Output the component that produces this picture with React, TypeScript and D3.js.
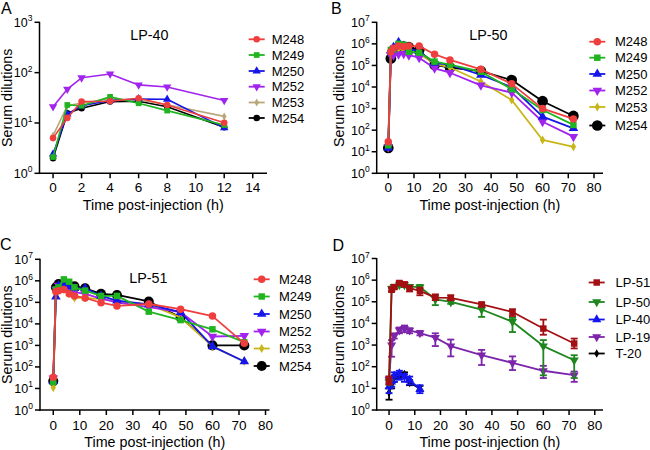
import React from 'react';
import * as d3 from 'd3';

// ---------- data ----------
const timesShort = [0, 1, 2, 4, 6, 8, 12];
const timesLong = [0, 1, 2, 4, 6, 8, 12, 18, 24, 36, 48, 60, 72];
const xTicksShort = [0, 2, 4, 6, 8, 10, 12, 14];
const xTicksLong = [0, 10, 20, 30, 40, 50, 60, 70, 80];
const mouseNames = ['M248', 'M249', 'M250', 'M252', 'M253', 'M254'];
const drugNames = ['LP-51', 'LP-50', 'LP-40', 'LP-19', 'T-20'];
const panelTitles = ['LP-40', 'LP-50', 'LP-51'];

// Panel A (LP-40)
const a_M248 = [5.0, 12.6, 26.6, 27, 31, 22.8, 10.1];
const a_M249 = [2.1, 22.8, 22, 33, 24.6, 17.6, 9.1];
const a_M250 = [2.4, 15, 22, 28, 30, 29.6, 8];
const a_M252 = [21, 47, 79, 94, 57, 52, 28];
const a_M253 = [5.6, 22, 25, 30, 29, 23, 13.5];
const a_M254 = [2.0, 15.6, 19.6, 26.6, 27, 21, 8.2];

// Panel B (LP-50)
const b_M248 = [29, 4.3e5, 6.3e5, 7.9e5, 7.4e5, 7.9e5, 7.9e5, 3.3e5, 1.8e5, 6.6e4, 1.4e4, 1.0e3, 330];
const b_M249 = [20, 5.2e5, 5.5e5, 1.0e6, 9e5, 4.3e5, 3.9e5, 1.5e5, 1.1e5, 5.1e4, 8e3, 860, 175];
const b_M250 = [15, 5e5, 7e5, 1.2e6, 8e5, 6e5, 4.5e5, 1.3e5, 1.1e5, 3.6e4, 1.0e4, 420, 122];
const b_M252 = [17, 3e5, 3e5, 3.3e5, 3.5e5, 3e5, 2.3e5, 7.4e4, 4.6e4, 1.2e4, 5.5e3, 245, 50];
const b_M253 = [15, 4e5, 5e5, 6e5, 5e5, 4.5e5, 3.5e5, 1.2e5, 8e4, 1.8e4, 2.5e3, 35, 17];
const b_M254 = [15, 2.1e5, 5e5, 7e5, 7.5e5, 7e5, 5e5, 1.05e5, 8e4, 5.5e4, 2.1e4, 2.2e3, 455];

// Panel C (LP-51)
const c_M248 = [33, 3.1e5, 3.5e5, 4e5, 2.5e5, 2e5, 1.6e5, 9.6e4, 6.8e4, 8.4e4, 4.8e4, 2.3e4, 1.25e3];
const c_M249 = [20, 4e5, 5e5, 1.17e6, 9.1e5, 5e5, 3.5e5, 2e5, 2e5, 3.7e4, 1.5e4, 5.6e3, 1.4e3];
const c_M250 = [22, 1.8e5, 6e5, 7e5, 5.5e5, 4.5e5, 4.5e5, 2e5, 1.2e5, 8e4, 3.5e4, 900, 180];
const c_M252 = [30, 4e5, 6e5, 6e5, 4e5, 3e5, 2.5e5, 1.5e5, 1e5, 6e4, 3.5e4, 2.6e3, 2.8e3];
const c_M253 = [11, 3e5, 4e5, 4e5, 2.5e5, 1.6e5, 1.6e5, 1.4e5, 1.1e5, 8e4, 2e4, 900, 180];
const c_M254 = [22, 5e5, 7e5, 6e5, 5e5, 5.5e5, 4.5e5, 2.5e5, 2.2e5, 1.1e5, 2e4, 1e3, 1e3];

// Panel D (means with lower / upper error bounds)
const d_LP51 = [22, 3.6e5, 4.8e5, 7.4e5, 6.4e5, 4.3e5, 3.2e5, 1.56e5, 1.5e5, 7.6e4, 3.4e4, 5.8e3, 1.18e3];
const d_LP51_lo = [15, 3e5, 4e5, 6e5, 5e5, 3e5, 2e5, 1.2e5, 1.2e5, 6e4, 2.2e4, 3e3, 7e2];
const d_LP51_hi = [35, 4.5e5, 6e5, 9e5, 8e5, 5.5e5, 4.5e5, 2.2e5, 2e5, 9e4, 4.5e4, 1.5e4, 2e3];
const d_LP50 = [20, 4e5, 5e5, 6e5, 6e5, 5e5, 4.8e5, 1.3e5, 9.8e4, 4.4e4, 1.2e4, 900, 200];
const d_LP50_lo = [15, 3e5, 4e5, 5e5, 5e5, 4e5, 4e5, 7e4, 8e4, 2e4, 4e3, 40, 30];
const d_LP50_hi = [25, 5e5, 6e5, 7e5, 7e5, 6e5, 6e5, 2e5, 1.2e5, 6e4, 1.8e4, 1.7e3, 340];
const d_LP40 = [12, 20, 38, 48, 34, 25, 9];
const d_LP40_lo = [6, 12, 20, 25, 20, 15, 6];
const d_LP40_hi = [25, 30, 55, 65, 45, 35, 14];
const d_LP19 = [25, 1e3, 2.6e3, 4.9e3, 5.8e3, 4.8e3, 3.6e3, 2.2e3, 900, 340, 150, 65, 41];
const d_LP19_lo = [18, 290, 2e3, 3.5e3, 4e3, 3.5e3, 2.8e3, 900, 300, 120, 70, 30, 20];
const d_LP19_hi = [35, 1.7e3, 3.5e3, 6.5e3, 8e3, 6e3, 4.5e3, 3.5e3, 1.8e3, 600, 300, 110, 60];
const d_T20 = [6.5, 15, 30, 40, 45, 18, 10];
const d_T20_lo = [3, 10, 20, 30, 35, 14, 8];
const d_T20_hi = [10, 20, 40, 50, 55, 24, 13];

// ---------- styling ----------
const FONT = 'Liberation Sans, Arial, Helvetica, sans-serif';
const C_RED = '#ef3e3e';
const C_GREEN = '#20b420';
const C_BLUE = '#1616e8';
const C_PURPLE = '#a024ee';
const C_TAN = '#b9a77c';
const C_OLIVE = '#c8b616';

type Series = {
  name: string; color: string; shape: string; size: number; times: number[];
  values: number[]; lo?: number[]; hi?: number[];
};

type PanelCfg = {
  left: number; right: number; top: number; bottom: number;
  xDomain: [number, number]; yExp: number; xTicks: number[];
  title?: string; titleX?: number; titleY?: number;
  label: string; labelX: number; labelY: number;
  yTitleX: number; xTickY: number; xTitleY: number;
  legendMarkerX: number; legendTextX: number; legendRows: number[];
  series: Series[]; lineWidth: number;
};

const symbolTypes: Record<string, d3.SymbolType> = {
  circle: d3.symbolCircle,
  square: d3.symbolSquare,
  triangle: d3.symbolTriangle,
  triangleDown: d3.symbolTriangle,
  diamond: d3.symbolDiamond,
};

function Marker({ shape, size, cx, cy, color }: { shape: string; size: number; cx: number; cy: number; color: string }) {
  const p = d3.symbol().type(symbolTypes[shape]).size(size)() || '';
  const rot = shape === 'triangleDown' ? ' rotate(180)' : '';
  return <path d={p} transform={`translate(${cx},${cy})${rot}`} fill={color} />;
}

function Panel({ cfg }: { cfg: PanelCfg }) {
  const x = d3.scaleLinear().domain(cfg.xDomain).range([cfg.left, cfg.right]);
  const y = d3.scaleLog().domain([1, Math.pow(10, cfg.yExp)]).range([cfg.bottom, cfg.top]);
  const yTicks = d3.range(0, cfg.yExp + 1);
  const line = d3.line<[number, number]>().x(d => x(d[0])).y(d => y(d[1]));
  const drawOrder = [...cfg.series].reverse();
  const cap = 3.5;
  return (
    <g fontFamily={FONT}>
      {/* series */}
      {drawOrder.map(s => (
        <g key={s.name}>
          {s.lo && s.hi && s.times.map((t, i) => (
            <g key={'e' + i} stroke={s.color} strokeWidth={1.8}>
              <line x1={x(t)} x2={x(t)} y1={y(s.lo![i])} y2={y(s.hi![i])} />
              <line x1={x(t) - cap} x2={x(t) + cap} y1={y(s.lo![i])} y2={y(s.lo![i])} />
              <line x1={x(t) - cap} x2={x(t) + cap} y1={y(s.hi![i])} y2={y(s.hi![i])} />
            </g>
          ))}
          <path d={line(s.times.map((t, i) => [t, s.values[i]] as [number, number])) || ''}
            fill="none" stroke={s.color} strokeWidth={cfg.lineWidth} strokeLinejoin="round" />
          {s.times.map((t, i) => (
            <Marker key={i} shape={s.shape} size={s.size} cx={x(t)} cy={y(s.values[i])} color={s.color} />
          ))}
        </g>
      ))}
      {/* axes */}
      <g stroke="#000" strokeWidth={1.5}>
        <line x1={cfg.left} x2={cfg.left} y1={cfg.top - 0.5} y2={cfg.bottom + 0.75} />
        <line x1={cfg.left - 0.75} x2={cfg.right} y1={cfg.bottom} y2={cfg.bottom} />
        {yTicks.map(k => (
          <line key={k} x1={cfg.left - 5} x2={cfg.left} y1={y(Math.pow(10, k))} y2={y(Math.pow(10, k))} />
        ))}
        {cfg.xTicks.map(t => (
          <line key={t} x1={x(t)} x2={x(t)} y1={cfg.bottom} y2={cfg.bottom + 5} />
        ))}
      </g>
      {yTicks.map(k => (
        <text key={k} x={cfg.left - 7} y={y(Math.pow(10, k)) + 4.5} fontSize={12.5} textAnchor="end" fill="#000">
          10<tspan fontSize={8.5} dy={-5.5}>{k}</tspan>
        </text>
      ))}
      {cfg.xTicks.map(t => (
        <text key={t} x={x(t)} y={cfg.xTickY} fontSize={13.5} textAnchor="middle" fill="#000">{t}</text>
      ))}
      <text x={(cfg.left + cfg.right) / 2} y={cfg.xTitleY} fontSize={14.3} textAnchor="middle" fill="#000">
        Time post-injection (h)
      </text>
      <text transform={`translate(${cfg.yTitleX},${(cfg.top + cfg.bottom) / 2}) rotate(-90)`} fontSize={14.3}
        textAnchor="middle" fill="#000">Serum dilutions</text>
      {cfg.title && (
        <text x={cfg.titleX} y={cfg.titleY} fontSize={14.3} textAnchor="middle" fill="#000">{cfg.title}</text>
      )}
      <text x={cfg.labelX} y={cfg.labelY} fontSize={16} fill="#000">{cfg.label}</text>
      {/* legend */}
      {cfg.series.map((s, i) => (
        <g key={'l' + s.name}>
          <line x1={cfg.legendMarkerX - 8} x2={cfg.legendMarkerX + 8} y1={cfg.legendRows[i]} y2={cfg.legendRows[i]}
            stroke={s.color} strokeWidth={1.8} />
          <Marker shape={s.shape} size={s.size} cx={cfg.legendMarkerX} cy={cfg.legendRows[i]} color={s.color} />
          <text x={cfg.legendTextX} y={cfg.legendRows[i] + 4.6} fontSize={13} fill="#000">{s.name}</text>
        </g>
      ))}
    </g>
  );
}

function mouseSeries(vals: number[][], times: number[], fifthColor: string, big: number, small: number): Series[] {
  const colors = [C_RED, C_GREEN, C_BLUE, C_PURPLE, fifthColor, '#000'];
  const shapes = ['circle', 'square', 'triangle', 'triangleDown', 'diamond', 'circle'];
  const sizes = [small, small * 0.95, small * 0.9, small * 0.9, small * 0.55, big];
  return mouseNames.map((n, i) => ({
    name: n, color: colors[i], shape: shapes[i], size: sizes[i], times, values: vals[i],
  }));
}

export default function App() {
  const panelA: PanelCfg = {
    left: 39.5, right: 267, top: 22.3, bottom: 173.3, xDomain: [-0.95, 15], yExp: 3, xTicks: xTicksShort,
    title: panelTitles[0], titleX: 149.3, titleY: 39.5, label: 'A', labelX: 1, labelY: 14,
    yTitleX: 12, xTickY: 191.5, xTitleY: 209.5,
    legendMarkerX: 256.7, legendTextX: 271.7, legendRows: [39.3, 55, 71, 86.7, 102.5, 118],
    series: mouseSeries([a_M248, a_M249, a_M250, a_M252, a_M253, a_M254], timesShort, C_TAN, 34, 34),
    lineWidth: 1.6,
  };
  const panelB: PanelCfg = {
    left: 376.7, right: 603, top: 22.3, bottom: 173.3, xDomain: [-4.5, 83.5], yExp: 7, xTicks: xTicksLong,
    title: panelTitles[1], titleX: 488.3, titleY: 39.5, label: 'B', labelX: 331, labelY: 14,
    yTitleX: 344, xTickY: 191.5, xTitleY: 209.5,
    legendMarkerX: 597.3, legendTextX: 615, legendRows: [41.7, 57.7, 74, 90.5, 107, 125.5],
    series: mouseSeries([b_M248, b_M249, b_M250, b_M252, b_M253, b_M254], timesLong, C_OLIVE, 90, 44),
    lineWidth: 1.8,
  };
  const panelC: PanelCfg = {
    left: 40, right: 269.5, top: 259.3, bottom: 410, xDomain: [-5, 81.5], yExp: 7, xTicks: xTicksLong,
    title: panelTitles[2], titleX: 148.3, titleY: 282.7, label: 'C', labelX: 0, labelY: 249.5,
    yTitleX: 11.5, xTickY: 429.5, xTitleY: 447,
    legendMarkerX: 261.7, legendTextX: 279, legendRows: [279.3, 296.5, 314, 331.5, 348.5, 366],
    series: mouseSeries([c_M248, c_M249, c_M250, c_M252, c_M253, c_M254], timesLong, C_OLIVE, 80, 44),
    lineWidth: 1.8,
  };
  const panelD: PanelCfg = {
    left: 376.7, right: 603, top: 258.5, bottom: 410, xDomain: [-4.8, 83.2], yExp: 7, xTicks: xTicksLong,
    label: 'D', labelX: 332.5, labelY: 250.5,
    yTitleX: 344, xTickY: 429.5, xTitleY: 447,
    legendMarkerX: 596.7, legendTextX: 615.5, legendRows: [282.5, 302, 319.5, 337, 353.5],
    series: [
      { name: drugNames[0], color: '#a30f12', shape: 'square', size: 42, times: timesLong, values: d_LP51, lo: d_LP51_lo, hi: d_LP51_hi },
      { name: drugNames[1], color: '#1d861d', shape: 'triangleDown', size: 36, times: timesLong, values: d_LP50, lo: d_LP50_lo, hi: d_LP50_hi },
      { name: drugNames[2], color: '#1414f0', shape: 'triangle', size: 36, times: timesShort, values: d_LP40, lo: d_LP40_lo, hi: d_LP40_hi },
      { name: drugNames[3], color: '#7c25aa', shape: 'triangleDown', size: 36, times: timesLong, values: d_LP19, lo: d_LP19_lo, hi: d_LP19_hi },
      { name: drugNames[4], color: '#000', shape: 'diamond', size: 22, times: timesShort, values: d_T20, lo: d_T20_lo, hi: d_T20_hi },
    ],
    lineWidth: 1.8,
  };
  return (
    <svg width={650} height={450} style={{ position: 'absolute', left: 0, top: 0, background: '#fff' }}>
      <rect width={650} height={450} fill="#fff" />
      <Panel cfg={panelA} />
      <Panel cfg={panelB} />
      <Panel cfg={panelC} />
      <Panel cfg={panelD} />
    </svg>
  );
}
